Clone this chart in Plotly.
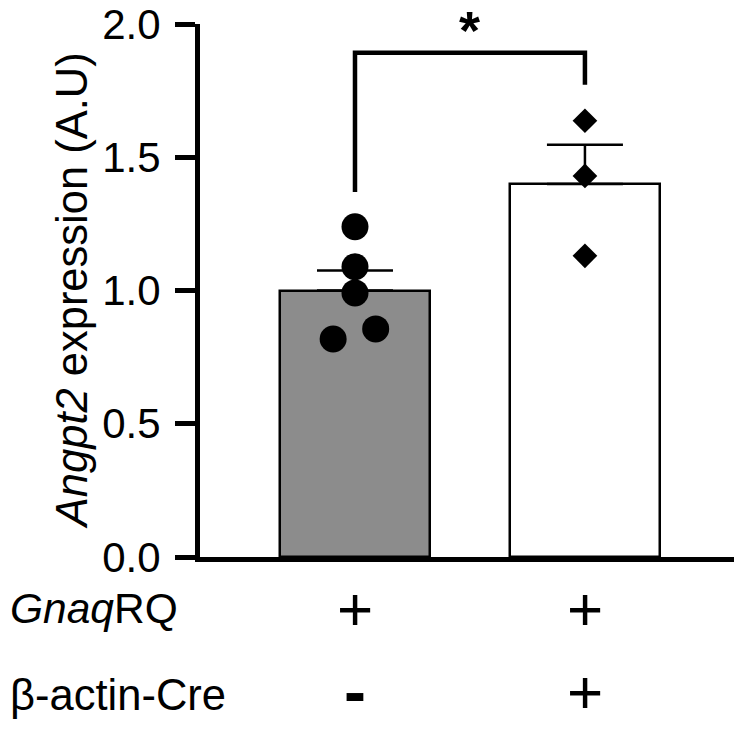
import plotly.graph_objects as go

# ---- data ----
groups = [0, 1]
bar_means = [1.00, 1.40]
bar_sem = [0.075, 0.147]
bar_colors = ["#8c8c8c", "#ffffff"]
ctrl_x = [0, 0, 0, -0.095, 0.09]
ctrl_y = [1.239, 1.089, 0.991, 0.818, 0.856]
mut_x = [1, 1, 1]
mut_y = [1.637, 1.430, 1.130]
bracket_x = [0, 0, 1, 1]
bracket_y = [1.37, 1.892, 1.892, 1.772]
row1_label = "<i>Gnaq</i>RQ"
row2_label = "β-actin-Cre"
row1_signs = ["+", "+"]
row2_signs = ["-", "+"]
y_ticks = [0.0, 0.5, 1.0, 1.5, 2.0]
y_ticktext = ["0.0", "0.5", "1.0", "1.5", "2.0"]

FONT = "Liberation Sans, Arial, Helvetica, sans-serif"

fig = go.Figure()
fig.add_trace(go.Bar(
    x=groups, y=bar_means, width=0.652,
    marker=dict(color=bar_colors, line=dict(color="black", width=2.5)),
    error_y=dict(type="data", symmetric=False, array=bar_sem,
                 arrayminus=[0, 0], color="black", thickness=2.5, width=38),
    showlegend=False,
))
fig.add_trace(go.Scatter(
    x=ctrl_x, y=ctrl_y, mode="markers",
    marker=dict(symbol="circle", size=27, color="black"),
    showlegend=False, cliponaxis=False,
))
fig.add_trace(go.Scatter(
    x=mut_x, y=mut_y, mode="markers",
    marker=dict(symbol="diamond", size=19, color="black"),
    showlegend=False, cliponaxis=False,
))
fig.add_trace(go.Scatter(
    x=bracket_x, y=bracket_y, mode="lines",
    line=dict(color="black", width=4.5),
    showlegend=False, cliponaxis=False,
))

annotations = [
    dict(x=0.5, y=1.0300, xref="x", yref="paper", text="<b>*</b>", showarrow=False,
         font=dict(size=54, color="black", family=FONT), yanchor="top",
         height=50, valign="bottom"),
    dict(x=-0.2367, y=0.5, xref="paper", yref="paper", xanchor="center",
         yanchor="middle",
         text="<i>Angpt2</i> expression (A.U)", textangle=-90, showarrow=False,
         font=dict(size=43.5, color="black", family=FONT)),
    dict(x=-0.354, y=-0.0957, xref="paper", yref="paper", text=row1_label,
         xanchor="left", yanchor="middle", showarrow=False,
         font=dict(size=42.5, color="black", family=FONT)),
    dict(x=-0.354, y=-0.259, xref="paper", yref="paper", text=row2_label,
         xanchor="left", yanchor="middle", showarrow=False,
         font=dict(size=43.5, color="black", family=FONT)),
]
for g, s in zip(groups, row1_signs):
    annotations.append(dict(x=g, y=-0.0957, xref="x", yref="paper", text=s,
                            showarrow=False, yanchor="middle",
                            font=dict(size=62, color="black", family=FONT)))
for g, s in zip(groups, row2_signs):
    txt = "<b>" + s + "</b>" if s == "-" else s
    annotations.append(dict(x=g, y=-0.252, xref="x", yref="paper", text=txt,
                            showarrow=False, yanchor="middle",
                            font=dict(size=62 if s == "+" else 66, color="black", family=FONT)))

fig.update_layout(
    width=734, height=731,
    margin=dict(l=192, r=0, t=16, b=182, autoexpand=False),
    paper_bgcolor="white", plot_bgcolor="white",
    font=dict(family=FONT, color="black", size=42),
    annotations=annotations,
    xaxis=dict(range=[-0.674, 1.683], showticklabels=False, ticks="",
               showline=True, linecolor="black", linewidth=5,
               showgrid=False, zeroline=False, fixedrange=True, automargin=False),
    yaxis=dict(range=[0, 2], tickvals=y_ticks, ticktext=y_ticktext,
               ticks="outside", ticklen=20, tickwidth=5, tickcolor="black",
               showline=True, linecolor="black", linewidth=5,
               showgrid=False, zeroline=False, ticklabelstandoff=6,
               ticklabeloverflow="allow", automargin=False,
               tickfont=dict(size=42, color="black", family=FONT)),
    bargap=0,
)

fig.write_html("out.html")
